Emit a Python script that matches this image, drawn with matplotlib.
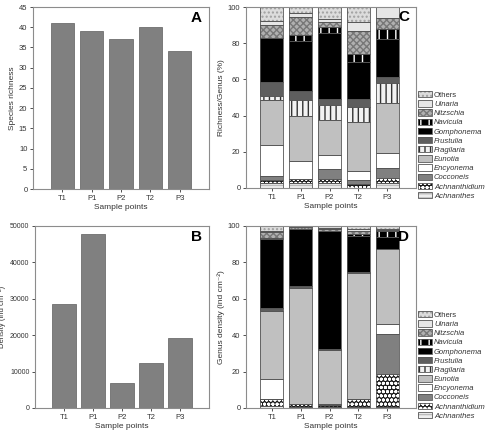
import numpy as np
import matplotlib.pyplot as plt
from matplotlib.patches import Patch
from matplotlib.legend_handler import HandlerTuple

plt.rcParams['font.family'] = ['Liberation Sans', 'DejaVu Sans']
plt.rcParams['hatch.linewidth'] = 1.0

# データ
samples = ["T1", "P1", "P2", "T2", "P3"]
richness = [41, 39, 37, 40, 34]
density = [28500, 47800, 6800, 12500, 19300]

genera = ["Achnanthes", "Achnanthidium", "Cocconeis", "Encyonema", "Eunotia",
          "Fragilaria", "Frustulia", "Gomphonema", "Navicula", "Nitzschia",
          "Ulnaria", "Others"]

# 属ごとの割合（%）: T1, P1, P2, T2, P3
rich_achnanthes = [2.6, 2.6, 2.6, 0.0, 2.6]
rich_achnanthidium = [1.9, 2.2, 2.6, 2.4, 3.1]
rich_cocconeis = [2.2, 0.0, 5.2, 2.2, 5.6]
rich_encyonema = [17.1, 10.2, 7.8, 4.7, 8.3]
rich_eunotia = [24.7, 25.0, 19.1, 27.2, 27.5]
rich_fragilaria = [2.3, 8.4, 8.3, 8.0, 10.9]
rich_frustulia = [7.8, 5.1, 3.6, 4.6, 3.4]
rich_gomphonema = [24.1, 27.8, 36.5, 20.4, 20.8]
rich_navicula = [0.0, 3.2, 3.0, 4.7, 5.6]
rich_nitzschia = [7.4, 9.9, 3.0, 12.6, 6.1]
rich_ulnaria = [1.9, 2.5, 1.5, 5.0, 6.0]
rich_others = [8.0, 3.1, 7.3, 8.2, 0.5]

dens_achnanthes = [1.0, 0.5, 0.5, 0.5, 0.5]
dens_achnanthidium = [4.2, 1.5, 1.2, 4.7, 18.4]
dens_cocconeis = [0.0, 0.3, 0.5, 0.0, 22.0]
dens_encyonema = [10.6, 0.0, 0.0, 0.0, 5.0]
dens_eunotia = [37.6, 63.5, 29.5, 69.0, 41.3]
dens_fragilaria = [0.0, 0.3, 0.3, 0.0, 0.0]
dens_frustulia = [1.3, 0.8, 0.5, 0.8, 0.3]
dens_gomphonema = [38.0, 31.2, 64.5, 19.3, 6.6]
dens_navicula = [0.5, 0.5, 0.5, 1.4, 3.4]
dens_nitzschia = [3.3, 0.7, 1.0, 1.4, 0.5]
dens_ulnaria = [1.0, 0.2, 0.5, 1.0, 0.5]
dens_others = [2.5, 0.5, 1.0, 1.9, 1.5]

rich_table = [rich_achnanthes, rich_achnanthidium, rich_cocconeis, rich_encyonema,
              rich_eunotia, rich_fragilaria, rich_frustulia, rich_gomphonema,
              rich_navicula, rich_nitzschia, rich_ulnaria, rich_others]
dens_table = [dens_achnanthes, dens_achnanthidium, dens_cocconeis, dens_encyonema,
              dens_eunotia, dens_fragilaria, dens_frustulia, dens_gomphonema,
              dens_navicula, dens_nitzschia, dens_ulnaria, dens_others]

# スタイル: (塗り色, ハッチ, ハッチ色)
styles = {
    "Achnanthes": ("#eeeeee", "----", "#bbbbbb"),
    "Achnanthidium": ("#1a1a1a", "oooo", "#ffffff"),
    "Cocconeis": ("#808080", "", "#808080"),
    "Encyonema": ("#ffffff", "", "#ffffff"),
    "Eunotia": ("#c0c0c0", "", "#c0c0c0"),
    "Fragilaria": ("#f2f2f2", "|||", "#333333"),
    "Frustulia": ("#5e5e5e", "", "#5e5e5e"),
    "Gomphonema": ("#000000", "", "#000000"),
    "Navicula": ("#000000", "||", "#ffffff"),
    "Nitzschia": ("#b0b0b0", "xxxxx", "#777777"),
    "Ulnaria": ("#e6e6e6", "", "#e6e6e6"),
    "Others": ("#dcdcdc", "....", "#a0a0a0"),
}

W, H = 488, 432
fig = plt.figure(figsize=(W / 100, H / 100), dpi=100)

def frac(l, t, r, b):
    return [l / W, 1 - b / H, (r - l) / W, (b - t) / H]

axA = fig.add_axes(frac(33, 7, 209, 189))
axB = fig.add_axes(frac(35, 226, 209, 408))
axC = fig.add_axes(frac(246, 7, 416, 188))
axD = fig.add_axes(frac(246, 226, 416, 408))

x = np.arange(len(samples))
tc = "#333333"

def style_ax(ax, size=5.5):
    for s in ax.spines.values():
        s.set_color("#8c8c8c")
        s.set_linewidth(0.8)
    ax.tick_params(labelsize=size, colors=tc, length=2, width=0.6, pad=2)
    ax.set_xticks(x)
    ax.set_xticklabels(samples, fontsize=5.5)
    ax.set_xlabel("Sample points", fontsize=6, color=tc, labelpad=2)

# A
axA.bar(x, richness, width=0.8, color="#808080", edgecolor="#6e6e6e", linewidth=0.6)
axA.set_xlim(-1, 5)
axA.set_ylim(0, 45)
axA.set_yticks(range(0, 46, 5))
axA.set_ylabel("Species richness", fontsize=6, color=tc, labelpad=2)
style_ax(axA)
axA.text(0.96, 0.92, "A", transform=axA.transAxes, ha="right", fontsize=11, fontweight="bold")

# B
axB.bar(x, density, width=0.8, color="#808080", edgecolor="#6e6e6e", linewidth=0.6)
axB.set_xlim(-1, 5)
axB.set_ylim(0, 50000)
axB.set_yticks(range(0, 50001, 10000))
axB.set_ylabel("Density (ind cm⁻²)", fontsize=5.5, color=tc)
axB.yaxis.set_label_coords(-0.165, 0.5)
style_ax(axB, size=5)
axB.text(0.96, 0.92, "B", transform=axB.transAxes, ha="right", fontsize=11, fontweight="bold")

def stacked(ax, table):
    bottom = np.zeros(len(samples))
    for g, vals in zip(genera, table):
        vals = np.array(vals, dtype=float)
        fc, hatch, hc = styles[g]
        ax.bar(x, vals, bottom=bottom, width=0.8, color=fc, hatch=hatch,
               edgecolor=hc, linewidth=0)
        ax.bar(x, vals, bottom=bottom, width=0.8, fill=False,
               edgecolor="#555555", linewidth=0.6)
        bottom += vals
    ax.set_xlim(-0.9, 5.0)
    ax.set_ylim(0, 100)
    ax.set_yticks(range(0, 101, 20))
    style_ax(ax)

stacked(axC, rich_table)
axC.set_ylabel("Richness/Genus (%)", fontsize=6, color=tc, labelpad=2)
axC.text(0.96, 0.92, "C", transform=axC.transAxes, ha="right", fontsize=11, fontweight="bold")

stacked(axD, dens_table)
axD.set_ylabel("Genus density (ind cm⁻²)", fontsize=6, color=tc, labelpad=2)
axD.text(0.96, 0.92, "D", transform=axD.transAxes, ha="right", fontsize=11, fontweight="bold")

# 凡例
handles = []
for g in genera[::-1]:
    fc, hatch, hc = styles[g]
    handles.append((Patch(facecolor=fc, hatch=hatch, edgecolor=hc, linewidth=0),
                    Patch(fill=False, edgecolor="#555555", linewidth=0.6)))
labels = genera[::-1]

for top in (91, 311):
    leg = fig.legend(handles, labels, loc="upper left",
                     bbox_to_anchor=(418 / W, 1 - top / H),
                     handler_map={tuple: HandlerTuple(ndivide=1, pad=0)},
                     frameon=False, fontsize=5.5, labelspacing=0.18,
                     handlelength=1.8, handleheight=0.9, handletextpad=0.3,
                     borderpad=0, borderaxespad=0)
    for t in leg.get_texts():
        t.set_color(tc)
        if t.get_text() != "Others":
            t.set_fontstyle("italic")

fig.savefig("out.png", dpi=100)
